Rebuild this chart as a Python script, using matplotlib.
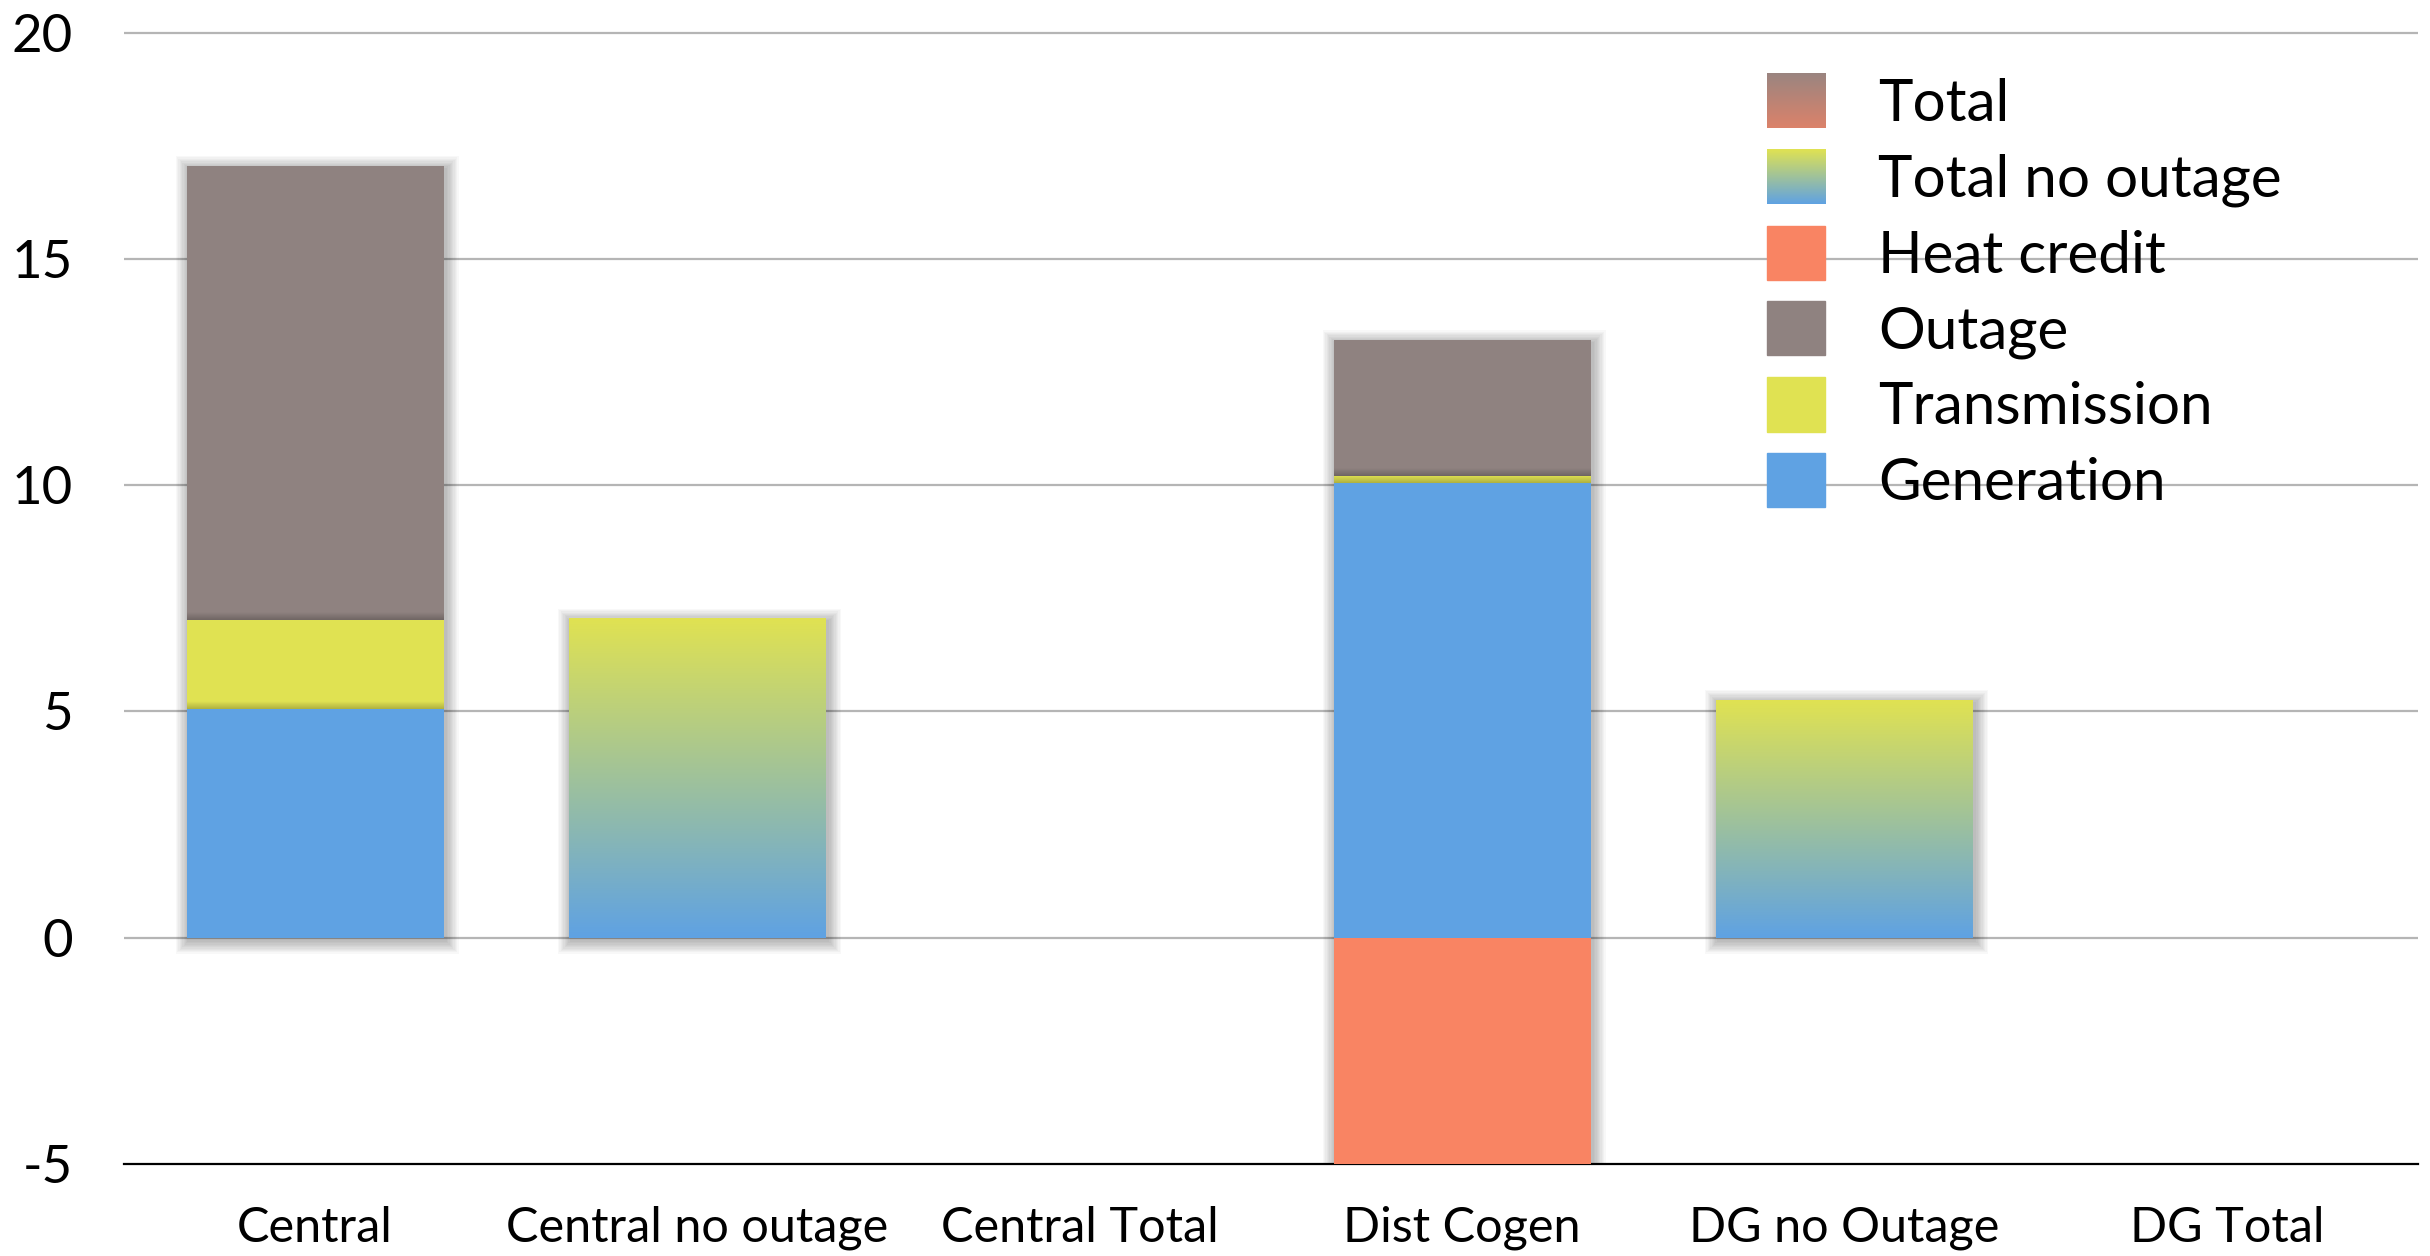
import numpy as np
import matplotlib
matplotlib.use("Agg")
import matplotlib.pyplot as plt
from matplotlib.colors import LinearSegmentedColormap
from matplotlib.patches import Patch, Rectangle
from matplotlib.legend_handler import HandlerBase
from matplotlib.image import BboxImage
from matplotlib.transforms import Bbox, TransformedBbox

plt.rcParams['font.family'] = ['Lato', 'DejaVu Sans']

categories = ["Central", "Central no outage", "Central Total",
              "Dist Cogen", "DG no Outage", "DG Total"]

generation = [5.05, 0, 0, 10.05, 0, 0]
transmission = [1.97, 0, 0, 0.15, 0, 0]
outage = [10.03, 0, 0, 3.0, 0, 0]
heat_credit = [0, 0, 0, -5.0, 0, 0]
total_no_outage = [0, 7.05, 0, 0, 5.25, 0]
total = [0, 0, 0, 0, 0, 0]

yticks = [-5, 0, 5, 10, 15, 20]

c_gen = "#5fa2e3"
c_trans = "#e0e252"
c_outage = "#8f8280"
c_heat = "#f98463"
c_total_top = "#9a8580"
c_total_bot = "#dc826a"

W, H = 2430, 1256
fig = plt.figure(figsize=(W / 100, H / 100), dpi=100)
ax = fig.add_axes([124 / W, 1 - 1164 / H, (2418 - 124) / W, (1164 - 32.5) / H])

x = np.arange(len(categories))
bw = 0.672

xlim = (-0.5, len(categories) - 0.5)
ylim = (-5, 20)
# data units per pixel, used for the soft shadows
px_x = (xlim[1] - xlim[0]) / (2418 - 124)
px_y = (ylim[1] - ylim[0]) / (1164 - 32.5)


def shadow(x0, y0, w, h, layers=10, step=1.3, alpha=0.028):
    for i in range(1, layers + 1):
        ex = i * step * px_x
        ey = i * step * px_y
        ax.add_patch(Rectangle((x0 - ex + 2 * px_x, y0 - ey - 3 * px_y), w + 2 * ex, h + 2 * ey,
                               facecolor="black", edgecolor="none", alpha=alpha, zorder=1.5))


def grad_cmap(bottom, top):
    return LinearSegmentedColormap.from_list("g", [bottom, top])


grad = np.linspace(0, 1, 256).reshape(-1, 1)

# stacked components
bottoms = np.zeros(len(categories))
stack = [(generation, c_gen), (transmission, c_trans), (outage, c_outage)]
for vals, col in stack:
    ax.bar(x, vals, bw, bottom=bottoms, color=col, zorder=3, linewidth=0)
    bottoms = bottoms + np.array(vals)
ax.bar(x, heat_credit, bw, color=c_heat, zorder=3, linewidth=0)

# shadows behind each full stack
for i in range(len(categories)):
    lo = min(0, heat_credit[i])
    hi = max(bottoms[i], total_no_outage[i], total[i])
    if hi - lo > 0:
        shadow(x[i] - bw / 2, lo, bw, hi - lo)

# seam shading where one segment sits on another
seam = LinearSegmentedColormap.from_list("s", [(0, 0, 0, 0.22), (0, 0, 0, 0)])
for i in range(len(categories)):
    levels = [generation[i], generation[i] + transmission[i]]
    if bottoms[i] > 0:
        for lv in levels:
            ax.imshow(np.linspace(0, 1, 32).reshape(-1, 1), origin="lower",
                      extent=[x[i] - bw / 2, x[i] + bw / 2, lv, lv + 8 * px_y],
                      cmap=seam, aspect="auto", zorder=3.5, interpolation="bilinear")

# gradient bars
for vals, cm in [(total_no_outage, grad_cmap(c_gen, c_trans)),
                 (total, grad_cmap(c_total_bot, c_total_top))]:
    for i, v in enumerate(vals):
        if v == 0:
            continue
        ax.imshow(grad, origin="lower", extent=[x[i] - bw / 2, x[i] + bw / 2, 0, v],
                  cmap=cm, aspect="auto", zorder=3, interpolation="bilinear")

ax.set_xlim(*xlim)
ax.set_ylim(*ylim)
ax.set_aspect("auto")

# gridlines
ax.hlines([t for t in yticks if t > ylim[0]], xlim[0], xlim[1], colors="#b5b5b5",
          linewidth=1.6, zorder=1, clip_on=False)

for s in ["top", "right", "left"]:
    ax.spines[s].set_visible(False)
ax.spines["bottom"].set_color("black")
ax.spines["bottom"].set_linewidth(1.6)

ax.set_xticks(x)
ax.set_xticklabels(categories, fontsize=35)
ax.set_yticks(yticks)
ax.set_yticklabels([str(t) for t in yticks], fontsize=38)
ax.tick_params(axis="both", length=0)
ax.tick_params(axis="y", pad=37)
ax.tick_params(axis="x", pad=30)


class GradientHandler(HandlerBase):
    def __init__(self, bottom, top):
        super().__init__()
        self.cmap = grad_cmap(bottom, top)

    def create_artists(self, legend, orig_handle, xdescent, ydescent,
                       width, height, fontsize, trans):
        bb = TransformedBbox(Bbox.from_bounds(-xdescent, -ydescent, width, height), trans)
        img = BboxImage(bb, cmap=self.cmap, interpolation="bilinear", origin="lower")
        img.set_data(grad)
        return [img]


h_total = Patch(label="Total")
h_tno = Patch(label="Total no outage")
handles = [h_total, h_tno,
           Patch(color=c_heat, label="Heat credit"),
           Patch(color=c_outage, label="Outage"),
           Patch(color=c_trans, label="Transmission"),
           Patch(color=c_gen, label="Generation")]
leg = fig.legend(handles=handles, loc="upper left",
                 bbox_to_anchor=(1767 / W, 1 - 74 / H),
                 frameon=False, fontsize=42, handlelength=1.0, handleheight=1.05,
                 handletextpad=0.9, labelspacing=0.32, borderaxespad=0, borderpad=0,
                 handler_map={h_total: GradientHandler(c_total_bot, c_total_top),
                              h_tno: GradientHandler(c_gen, c_trans)})

fig.savefig("out.png", dpi=100)
